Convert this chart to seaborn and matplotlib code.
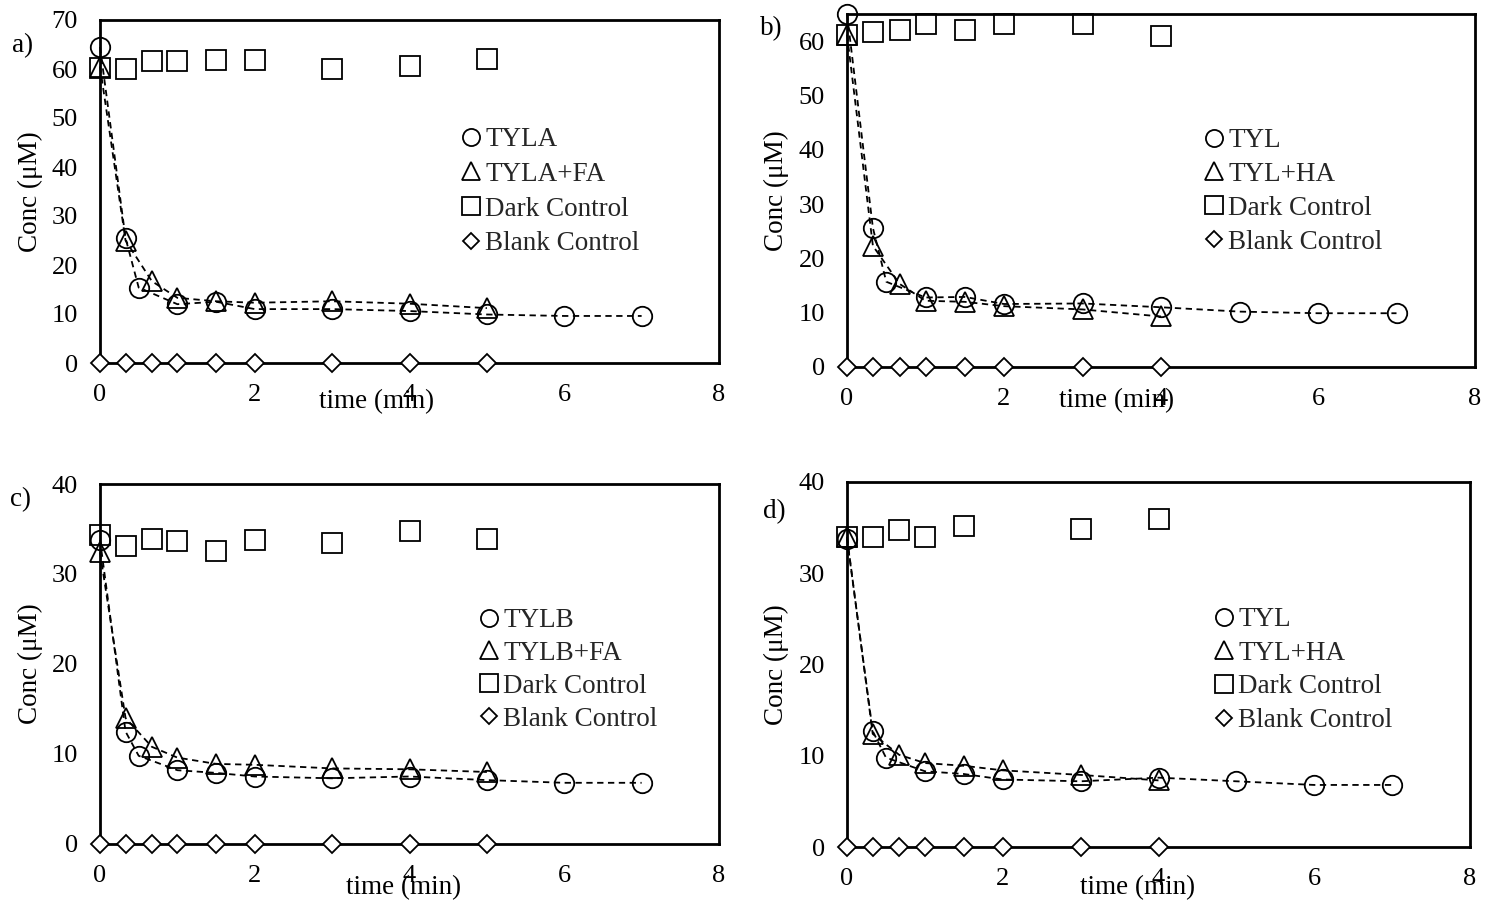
import matplotlib
matplotlib.use("Agg")
import matplotlib.pyplot as plt
from matplotlib.lines import Line2D
import seaborn as sns

# ---- data: concentration (uM) vs time (min) ----
# panel a: TYLA
a_t_main = [0, 0.33, 0.5, 1, 1.5, 2, 3, 4, 5, 6, 7]
a_main = [64.5, 25.5, 15.4, 12.0, 12.5, 11.0, 11.0, 10.6, 9.9, 9.6, 9.6]
a_t_add = [0, 0.33, 0.67, 1, 1.5, 2, 3, 4, 5]
a_add = [60.5, 25.0, 16.7, 13.3, 12.6, 12.3, 12.6, 12.1, 11.2]
a_t_ctrl = [0, 0.33, 0.67, 1, 1.5, 2, 3, 4, 5]
a_dark = [60.3, 60.0, 61.6, 61.6, 61.8, 61.8, 60.0, 60.7, 62.0]
a_blank = [0, 0, 0, 0, 0, 0, 0, 0, 0]

# panel b: TYL
b_t_main = [0, 0.33, 0.5, 1, 1.5, 2, 3, 4, 5, 6, 7]
b_main = [65.0, 25.6, 15.7, 12.8, 12.9, 11.6, 11.7, 11.0, 10.2, 9.9, 9.9]
b_t_add = [0, 0.33, 0.67, 1, 1.5, 2, 3, 4]
b_add = [61.2, 22.3, 15.3, 12.2, 12.0, 11.2, 10.6, 9.3]
b_t_ctrl = [0, 0.33, 0.67, 1, 1.5, 2, 3, 4]
b_dark = [61.1, 61.7, 62.1, 63.2, 62.1, 63.2, 63.2, 61.0]
b_blank = [0, 0, 0, 0, 0, 0, 0, 0]

# panel c: TYLB
c_t_main = [0, 0.33, 0.5, 1, 1.5, 2, 3, 4, 5, 6, 7]
c_main = [33.8, 12.5, 9.8, 8.2, 7.9, 7.5, 7.3, 7.5, 7.1, 6.8, 6.8]
c_t_add = [0, 0.33, 0.67, 1, 1.5, 2, 3, 4, 5]
c_add = [32.4, 14.0, 10.8, 9.6, 8.9, 8.8, 8.4, 8.3, 8.0]
c_t_ctrl = [0, 0.33, 0.67, 1, 1.5, 2, 3, 4, 5]
c_dark = [34.3, 33.1, 33.9, 33.7, 32.6, 33.8, 33.5, 34.8, 33.9]
c_blank = [0, 0, 0, 0, 0, 0, 0, 0, 0]

# panel d: TYL
d_t_main = [0, 0.33, 0.5, 1, 1.5, 2, 3, 4, 5, 6, 7]
d_main = [33.8, 12.7, 9.8, 8.3, 8.0, 7.4, 7.2, 7.6, 7.2, 6.8, 6.8]
d_t_add = [0, 0.33, 0.67, 1, 1.5, 2, 3, 4]
d_add = [34.0, 12.4, 10.1, 9.2, 8.9, 8.4, 7.9, 7.3]
d_t_dark = [0, 0.33, 0.67, 1, 1.5, 3, 4]
d_dark = [34.0, 34.0, 34.7, 34.0, 35.2, 34.9, 36.0]
d_t_blank = [0, 0.33, 0.67, 1, 1.5, 2, 3, 4]
d_blank = [0, 0, 0, 0, 0, 0, 0, 0]

labels_a = ["TYLA", "TYLA+FA", "Dark Control", "Blank Control"]
labels_b = ["TYL", "TYL+HA", "Dark Control", "Blank Control"]
labels_c = ["TYLB", "TYLB+FA", "Dark Control", "Blank Control"]
labels_d = ["TYL", "TYL+HA", "Dark Control", "Blank Control"]

x_ticks = [0, 2, 4, 6, 8]

# ---- styling ----
sns.set_theme(style="white")
plt.rcParams["font.family"] = ["Liberation Serif", "DejaVu Serif"]

W, H = 1490, 914
fig = plt.figure(figsize=(W / 100, H / 100), dpi=100)
fig.patch.set_facecolor("white")

FS = 19.5
MS = 14
MEW = 1.3
DASH = (0, (3.5, 2.5))

marker_spec = {
    "main": dict(marker="o"),
    "add": dict(marker="^"),
    "dark": dict(marker="s"),
    "blank": dict(marker="D", markersize=9.5),
}


def px_axes(l, t, r, b):
    return fig.add_axes([l / W, 1 - b / H, (r - l) / W, (b - t) / H])


def series(ax, t, y, kind, dashed):
    spec = dict(marker_spec[kind])
    ms = spec.pop("markersize", MS)
    face = "white" if kind == "blank" else "none"
    sns.lineplot(
        x=t, y=y, ax=ax, estimator=None, sort=False,
        color="black", linestyle=DASH if dashed else "none",
        linewidth=1.3, markersize=ms, markerfacecolor=face,
        markeredgecolor="black", markeredgewidth=MEW,
        clip_on=False, zorder=4, **spec,
    )


def panel(box, letter, letter_xy, data, ylim, yticks, labels, xlab_xy,
          legend_xy, spacing):
    ax = px_axes(*box)
    (tm, m), (ta, a), (tdk, dk), (tbl, bl) = data
    series(ax, tm, m, "main", True)
    series(ax, ta, a, "add", True)
    series(ax, tdk, dk, "dark", False)
    series(ax, tbl, bl, "blank", False)

    ax.set_xlim(0, 8)
    ax.set_ylim(*ylim)
    ax.set_xticks(x_ticks)
    ax.set_yticks(yticks)
    ax.tick_params(axis="both", length=0, labelsize=19, colors="black")
    ax.tick_params(axis="x", pad=15)
    ax.tick_params(axis="y", pad=16)
    for s in ax.spines.values():
        s.set_visible(True)
        s.set_color("black")
        s.set_linewidth(2.0)
    ax.set_facecolor("white")

    ax.set_xlabel("time (min)", fontsize=FS, color="black")
    ax.xaxis.set_label_coords(*xlab_xy)
    ax.xaxis.label.set_va("center")
    ax.set_ylabel("Conc (μM)", fontsize=FS, color="black")
    ax.yaxis.set_label_coords(-0.113, 0.5)
    ax.yaxis.label.set_va("center")

    handles = []
    for kind in ["main", "add", "dark", "blank"]:
        spec = dict(marker_spec[kind])
        ms = spec.pop("markersize", MS)
        handles.append(Line2D([], [], linestyle="none", color="black",
                              markersize=ms * 0.88, markerfacecolor="none",
                              markeredgecolor="black", markeredgewidth=MEW, **spec))
    lx, ly = legend_xy
    ax.legend(handles, labels, loc="upper left",
              bbox_to_anchor=(lx / W, 1 - ly / H), bbox_transform=fig.transFigure,
              frameon=False, fontsize=FS, borderpad=0, borderaxespad=0,
              handlelength=0.65, handletextpad=0.2, labelspacing=spacing)

    fig.text(letter_xy[0] / W, 1 - letter_xy[1] / H, letter, fontsize=FS,
             ha="left", va="center", color="black")
    return ax


panel((100, 20, 719, 363), "a)", (12, 46),
      [(a_t_main, a_main), (a_t_add, a_add), (a_t_ctrl, a_dark), (a_t_ctrl, a_blank)],
      (0, 70), range(0, 71, 10), labels_a, (0.446, -0.114), (462, 127), 0.36)

panel((847, 14, 1475, 367), "b)", (760, 29),
      [(b_t_main, b_main), (b_t_add, b_add), (b_t_ctrl, b_dark), (b_t_ctrl, b_blank)],
      (0, 65), range(0, 61, 10), labels_b, (0.430, -0.096), (1205, 128), 0.33)

panel((100, 484, 719, 844), "c)", (10, 500),
      [(c_t_main, c_main), (c_t_add, c_add), (c_t_ctrl, c_dark), (c_t_ctrl, c_blank)],
      (0, 40), range(0, 41, 10), labels_c, (0.491, -0.122), (480, 608), 0.29)

panel((847, 482, 1470, 847), "d)", (763, 512),
      [(d_t_main, d_main), (d_t_add, d_add), (d_t_dark, d_dark), (d_t_blank, d_blank)],
      (0, 40), range(0, 41, 10), labels_d, (0.467, -0.112), (1215, 607), 0.32)

fig.savefig("out.png", dpi=100, facecolor="white")
